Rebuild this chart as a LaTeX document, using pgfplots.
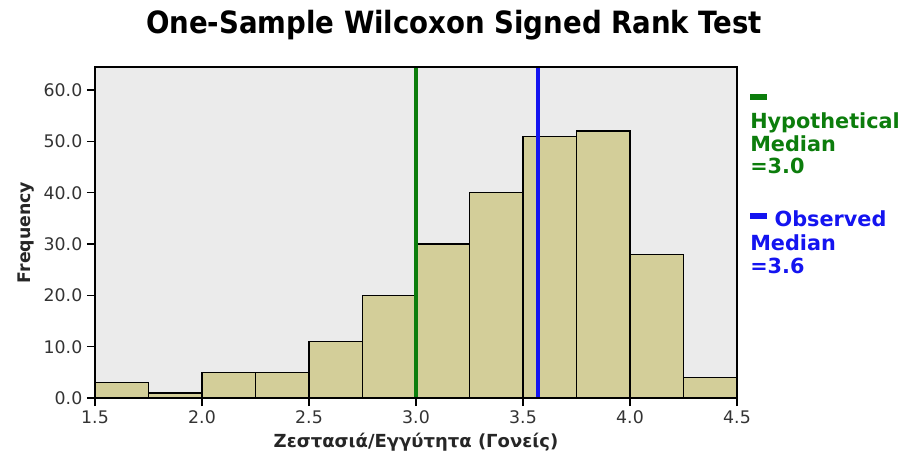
\documentclass[border=0pt]{standalone}
\usepackage{fontspec}
\setmainfont{DejaVu Sans}
\newfontfamily\condfont{DejaVu Sans Condensed}
\usepackage{pgfplots}
\pgfplotsset{compat=1.18}
\definecolor{barfill}{RGB}{211,206,153}
\definecolor{bggray}{RGB}{235,235,235}
\definecolor{medgreen}{RGB}{12,125,12}
\definecolor{medblue}{RGB}{20,20,240}
\begin{document}
\begin{tikzpicture}
\begin{axis}[name=ax, scale only axis, width=481.5pt, height=248.25pt,
  xmin=1.5, xmax=4.5, ymin=0, ymax=64.5,
  axis background/.style={fill=bggray},
  xtick={1.5,2,2.5,3,3.5,4,4.5}, ytick={0,10,20,30,40,50,60},
  tick align=outside, xtick pos=bottom, ytick pos=left,
  major tick length=6pt,
  tick style={black, line width=1pt},
  axis line style={line width=1.1pt},
  axis on top,
  xticklabel style={font=\fontsize{13}{15}\selectfont, color=black!80},
  yticklabel style={font=\fontsize{13}{15}\selectfont, color=black!80},
  xlabel={Ζεστασιά/Εγγύτητα (Γονείς)},
  ylabel={Frequency},
  xlabel style={font=\bfseries\fontsize{13.5}{15}\selectfont, color=black!85},
  ylabel style={font=\bfseries\fontsize{13}{15}\selectfont, color=black!85},
  /pgf/number format/fixed,
  /pgf/number format/fixed zerofill,
  /pgf/number format/precision=1,
  /pgf/number format/assume math mode=true,
]
\addplot[ybar interval, fill=barfill, draw=black, line width=1pt] coordinates {
  (1.5,3) (1.75,1) (2,5) (2.25,5) (2.5,11) (2.75,20) (3,30) (3.25,40)
  (3.5,51) (3.75,52) (4,28) (4.25,4) (4.5,4)};
\addplot[medgreen, line width=2.4pt] coordinates {(3,0) (3,64.5)};
\addplot[medblue, line width=2.4pt] coordinates {(3.57,0) (3.57,64.5)};
\end{axis}
\node[font=\condfont\bfseries\fontsize{23}{27}\selectfont, anchor=base] at ([xshift=28.5pt, yshift=25.5pt]ax.north) {One-Sample Wilcoxon Signed Rank Test};
\begin{scope}[every node/.style={anchor=base west, inner sep=0pt, font=\bfseries\fontsize{15.6}{18}\selectfont}]
\fill[medgreen] ([xshift=9.75pt, yshift=-20.5pt]ax.north east) rectangle ++(13pt,-4.5pt);
\node[text=medgreen] at ([xshift=9.75pt, yshift=-45.75pt]ax.north east) {Hypothetical};
\node[text=medgreen] at ([xshift=9.75pt, yshift=-63pt]ax.north east) {Median};
\node[text=medgreen] at ([xshift=9.75pt, yshift=-79.5pt]ax.north east) {=3.0};
\fill[medblue] ([xshift=9.75pt, yshift=-109.5pt]ax.north east) rectangle ++(13pt,-4.5pt);
\node[text=medblue] at ([xshift=28pt, yshift=-119.25pt]ax.north east) {Observed};
\node[text=medblue] at ([xshift=9.75pt, yshift=-137.25pt]ax.north east) {Median};
\node[text=medblue] at ([xshift=9.75pt, yshift=-154.5pt]ax.north east) {=3.6};
\end{scope}
\pgfresetboundingbox
\path[use as bounding box] ([xshift=-71.25pt,yshift=-48.75pt]ax.south west) rectangle ([xshift=132.75pt,yshift=50.25pt]ax.north east);
\end{tikzpicture}
\end{document}
